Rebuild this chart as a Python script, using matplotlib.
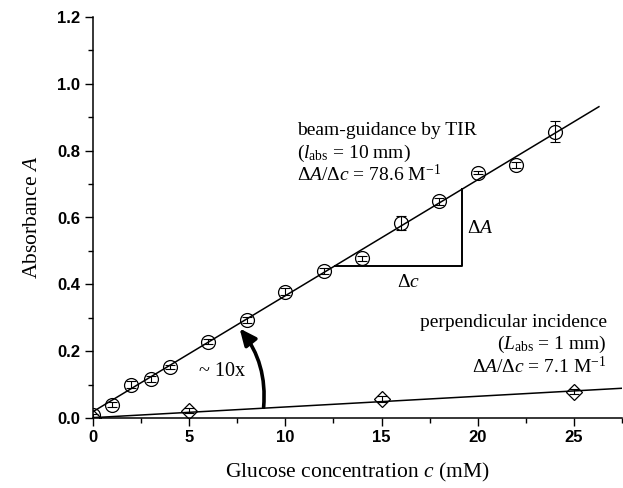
import numpy as np
import matplotlib.pyplot as plt
from matplotlib.ticker import MultipleLocator, FormatStrFormatter

plt.rcParams['mathtext.fontset'] = 'custom'
plt.rcParams['mathtext.rm'] = 'Liberation Serif'
plt.rcParams['mathtext.it'] = 'Liberation Serif:italic'
plt.rcParams['font.family'] = 'Liberation Serif'

# TIR (beam guidance) data
c_tir = [0, 1, 2, 3, 4, 6, 8, 10, 12, 14, 16, 18, 20, 22, 24]
A_tir = [0.008, 0.040, 0.100, 0.117, 0.152, 0.228, 0.293, 0.378, 0.440, 0.478, 0.583, 0.648, 0.734, 0.757, 0.857]
err_tir = [0.004, 0.008, 0.010, 0.008, 0.006, 0.008, 0.010, 0.010, 0.008, 0.008, 0.020, 0.010, 0.004, 0.008, 0.032]
# perpendicular incidence data
c_perp = [0, 5, 15, 25]
A_perp = [0.0, 0.022, 0.057, 0.079]
err_perp = [0.003, 0.008, 0.008, 0.008]
# linear fits (intercept, slope, x-range)
fit_tir = (0.019, 0.0347, 0.0, 26.3)
fit_perp = (0.001, 0.0032, 0.0, 27.5)

fig = plt.figure(figsize=(6.23, 4.88), dpi=100)
ax = fig.add_axes([93/623, 70/488, 529/623, 401/488])

for b0, m, x0, x1 in (fit_tir, fit_perp):
    xx = np.array([x0, x1])
    ax.plot(xx, b0 + m*xx, color='black', lw=1.1, zorder=2)

ax.plot(c_tir, A_tir, 'o', ms=10, mfc='none', mec='black', mew=0.9, zorder=3)
ax.errorbar(c_tir, A_tir, yerr=err_tir, fmt='none', ecolor='black', elinewidth=0.8,
            capsize=3.5, capthick=0.8, zorder=4)
ax.plot(c_perp, A_perp, 'D', ms=8.5, mfc='none', mec='black', mew=0.9, zorder=3)
ax.errorbar(c_perp, A_perp, yerr=err_perp, fmt='none', ecolor='black', elinewidth=0.8,
            capsize=3.5, capthick=0.8, zorder=4)

# slope triangle
ax.plot([12.6, 19.2, 19.2], [0.456, 0.456, 0.685], color='black', lw=1.4, zorder=2)
ax.text(19.45, 0.566, r'$\Delta A$', fontsize=14, va='center', ha='left')
ax.text(16.4, 0.405, r'$\Delta c$', fontsize=14, va='center', ha='center')

# annotations
ax.text(10.6, 0.859, 'beam-guidance by TIR', fontsize=14, va='center', ha='left')
ax.text(10.6, 0.793, r'($l_{\rm abs}$ = 10 mm)', fontsize=14, va='center', ha='left')
ax.text(10.6, 0.730, r'$\Delta A/\Delta c$ = 78.6 M$^{-1}$', fontsize=14, va='center', ha='left')

ax.text(26.7, 0.287, 'perpendicular incidence', fontsize=14, va='center', ha='right')
ax.text(26.7, 0.219, r'($L_{\rm abs}$ = 1 mm)', fontsize=14, va='center', ha='right')
ax.text(26.7, 0.153, r'$\Delta A/\Delta c$ = 7.1 M$^{-1}$', fontsize=14, va='center', ha='right')

ax.annotate('', xy=(7.62, 0.268), xytext=(8.87, 0.032),
            arrowprops=dict(arrowstyle='-|>,head_length=1.0,head_width=0.45', color='black',
                            lw=2.6, connectionstyle='arc3,rad=0.2', shrinkA=0, shrinkB=0))
ax.text(5.5, 0.138, '~ 10x', fontsize=14.5, va='center', ha='left')

ax.set_xlim(0, 27.5)
ax.set_ylim(0, 1.2)
ax.spines['top'].set_visible(False)
ax.spines['right'].set_visible(False)
for s in ('left', 'bottom'):
    ax.spines[s].set_linewidth(1.1)
ax.xaxis.set_major_locator(MultipleLocator(5))
ax.xaxis.set_minor_locator(MultipleLocator(2.5))
ax.yaxis.set_major_locator(MultipleLocator(0.2))
ax.yaxis.set_minor_locator(MultipleLocator(0.1))
ax.yaxis.set_major_formatter(FormatStrFormatter('%.1f'))
ax.tick_params(which='major', direction='out', length=5.5, width=1.0, pad=3.5)
ax.tick_params(which='minor', direction='out', length=3.5, width=1.0)
for lab in ax.get_xticklabels() + ax.get_yticklabels():
    lab.set_fontfamily('Liberation Sans')
    lab.set_fontweight('bold')
    lab.set_fontsize(12)

ax.set_xlabel(r'Glucose concentration $c$ (mM)', fontsize=15.5, labelpad=11)
ax.set_ylabel(r'Absorbance $A$', fontsize=15.5, labelpad=11)

fig.savefig('out.png', dpi=100)
